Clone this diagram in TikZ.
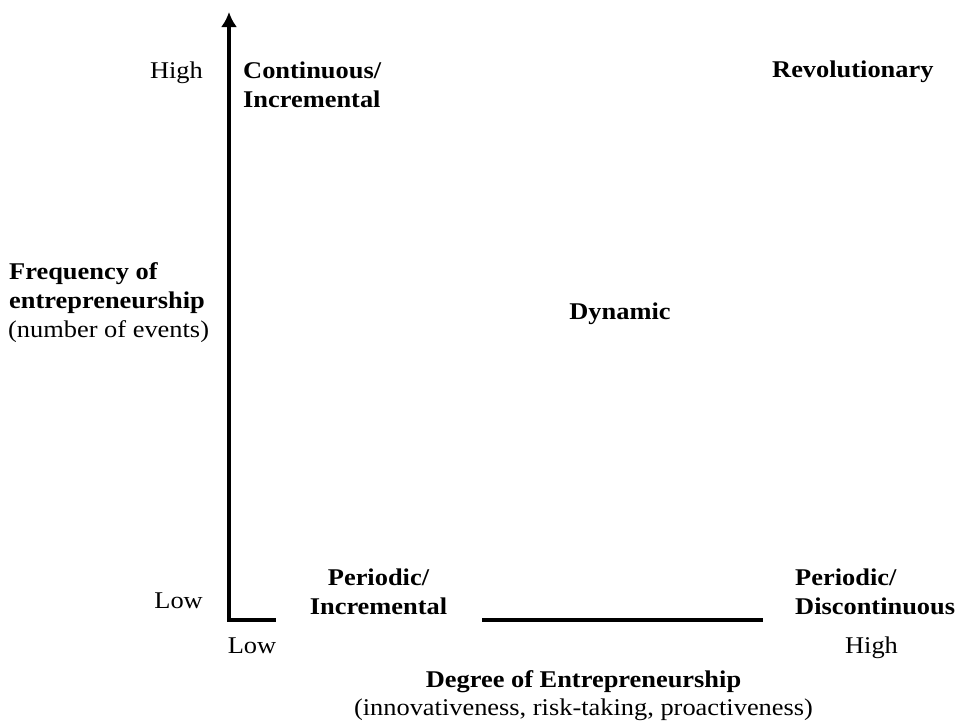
\documentclass[tikz,border=0pt]{standalone}
\usepackage{fontspec}
\setmainfont{Liberation Serif}[FakeStretch=1.1]
\usetikzlibrary{arrows.meta}
\begin{document}
\begin{tikzpicture}[x=1pt,y=-1pt,
  lbl/.style={inner sep=0pt,font=\fontsize{24}{29}\selectfont},
  blbl/.style={lbl,font=\fontsize{24}{29}\selectfont\bfseries},
  axisline/.style={line width=3.4pt}]
\useasboundingbox (0,0) rectangle (963,721);
\coordinate (origin) at (229,620);
\coordinate (ytop) at (229,12);
\coordinate (xa) at (275.5,620);
\coordinate (xb) at (482,620);
\coordinate (xc) at (763,620);
\draw[axisline,-{Latex[length=15pt,width=16pt]}] (xa) -- (origin) -- (ytop);
\draw[axisline] (xb) -- (xc);
\node[lbl,anchor=base east] (yhigh) at (203,78) {High};
\node[lbl,anchor=base east] (ylow) at (203,608) {Low};
\node[blbl,anchor=base west] (ci1) at (243,78) {Continuous/};
\node[blbl,anchor=base west] (ci2) at (243,107) {Incremental};
\node[blbl,anchor=base west] (rev) at (772,77) {Revolutionary};
\node[blbl,anchor=base] (dyn) at (620,319) {Dynamic};
\node[blbl,anchor=base west] (freq1) at (9,279) {Frequency of};
\node[blbl,anchor=base west] (freq2) at (9,308) {entrepreneurship};
\node[lbl,anchor=base west] (freq3) at (8,337) {(number of events)};
\node[blbl,anchor=base] (pi1) at (378.5,585) {Periodic/};
\node[blbl,anchor=base] (pi2) at (378.5,614) {Incremental};
\node[blbl,anchor=base west] (pd1) at (795,585) {Periodic/};
\node[blbl,anchor=base west] (pd2) at (795,614) {Discontinuous};
\node[lbl,anchor=base] (xlow) at (252,653) {Low};
\node[lbl,anchor=base] (xhigh) at (871.5,653) {High};
\node[blbl,anchor=base] (deg1) at (583.5,687) {Degree of Entrepreneurship};
\node[lbl,anchor=base] (deg2) at (583.5,715) {(innovativeness, risk-taking, proactiveness)};
\end{tikzpicture}
\end{document}
